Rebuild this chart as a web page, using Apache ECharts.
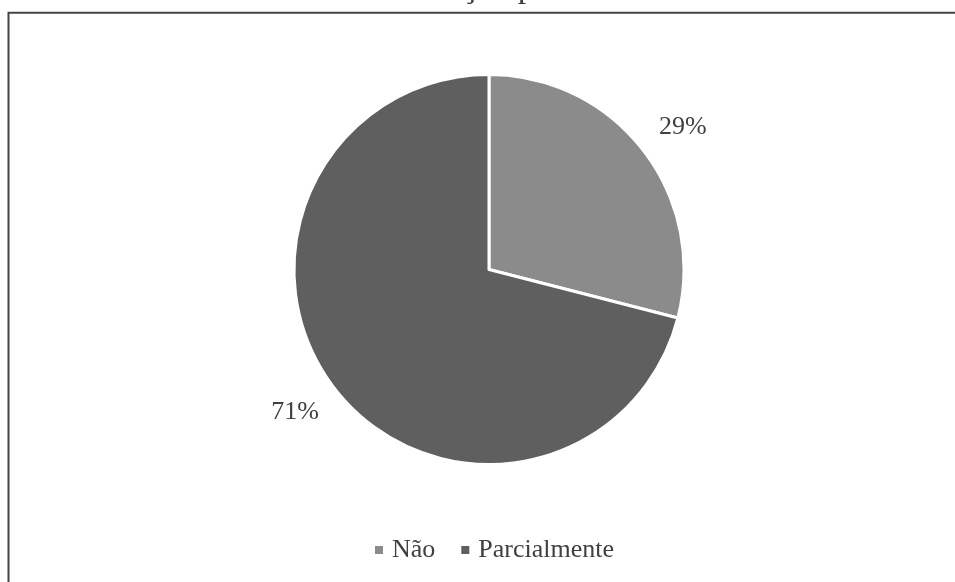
<!DOCTYPE html>
<html>
<head>
<meta charset="utf-8">
<title>Pie</title>
<script src="https://cdn.jsdelivr.net/npm/echarts@6/dist/echarts.min.js"></script>
<style>
    html, body {margin: 0; padding: 0; background: #fff;}
    #main {width: 955px; height: 582px;}
</style>
</head>
<body>
<div id="main"></div>
<script>
    // categorias e valores (%)
    var categories = ['Não', 'Parcialmente'];
    var values = [29, 71];
    var colorList = ['#8b8b8b', '#5f5f5f'];

    var serif = '"Liberation Serif", "Times New Roman", serif';

    var pieData = [];
    for (var i = 0; i < categories.length; i++) {
        pieData.push({value: values[i], name: categories[i], itemStyle: {color: colorList[i]}});
    }

    var myChart = echarts.init(document.getElementById('main'));
    var option = {
        animation: false,
        title: {
            text: 'Avaliação parcial',
            left: 374,
            top: -29,
            padding: 0,
            textStyle: {fontFamily: serif, fontSize: 34, fontWeight: 'normal', color: '#404040'}
        },
        graphic: [{
            type: 'polyline',
            shape: {points: [[8.5, 582], [8.5, 12.8], [955, 12.8]]},
            style: {stroke: '#444', lineWidth: 2, fill: null}
        }],
        legend: {
            data: categories,
            bottom: 19,
            left: 373,
            padding: 0,
            itemWidth: 10,
            itemHeight: 10,
            itemGap: 24,
            icon: 'rect',
            textStyle: {fontFamily: serif, fontSize: 26, color: '#404040', padding: [0, 0, 0, 3]}
        },
        series: [{
            name: 'Resposta',
            type: 'pie',
            center: [489, 269.5],
            radius: 195,
            startAngle: 90,
            clockwise: true,
            avoidLabelOverlap: false,
            itemStyle: {borderColor: '#fff', borderWidth: 3},
            label: {
                show: true,
                position: 'outside',
                distanceToLabelLine: 0,
                padding: [8, 0, 0, 0],
                fontFamily: serif,
                fontSize: 26,
                color: '#404040',
                formatter: function (p) {
                    return Math.round(p.percent) + '%';
                }
            },
            labelLine: {show: false, length: 38, length2: -14},
            emphasis: {disabled: true},
            data: pieData
        }]
    };
    myChart.setOption(option);
</script>
</body>
</html>
